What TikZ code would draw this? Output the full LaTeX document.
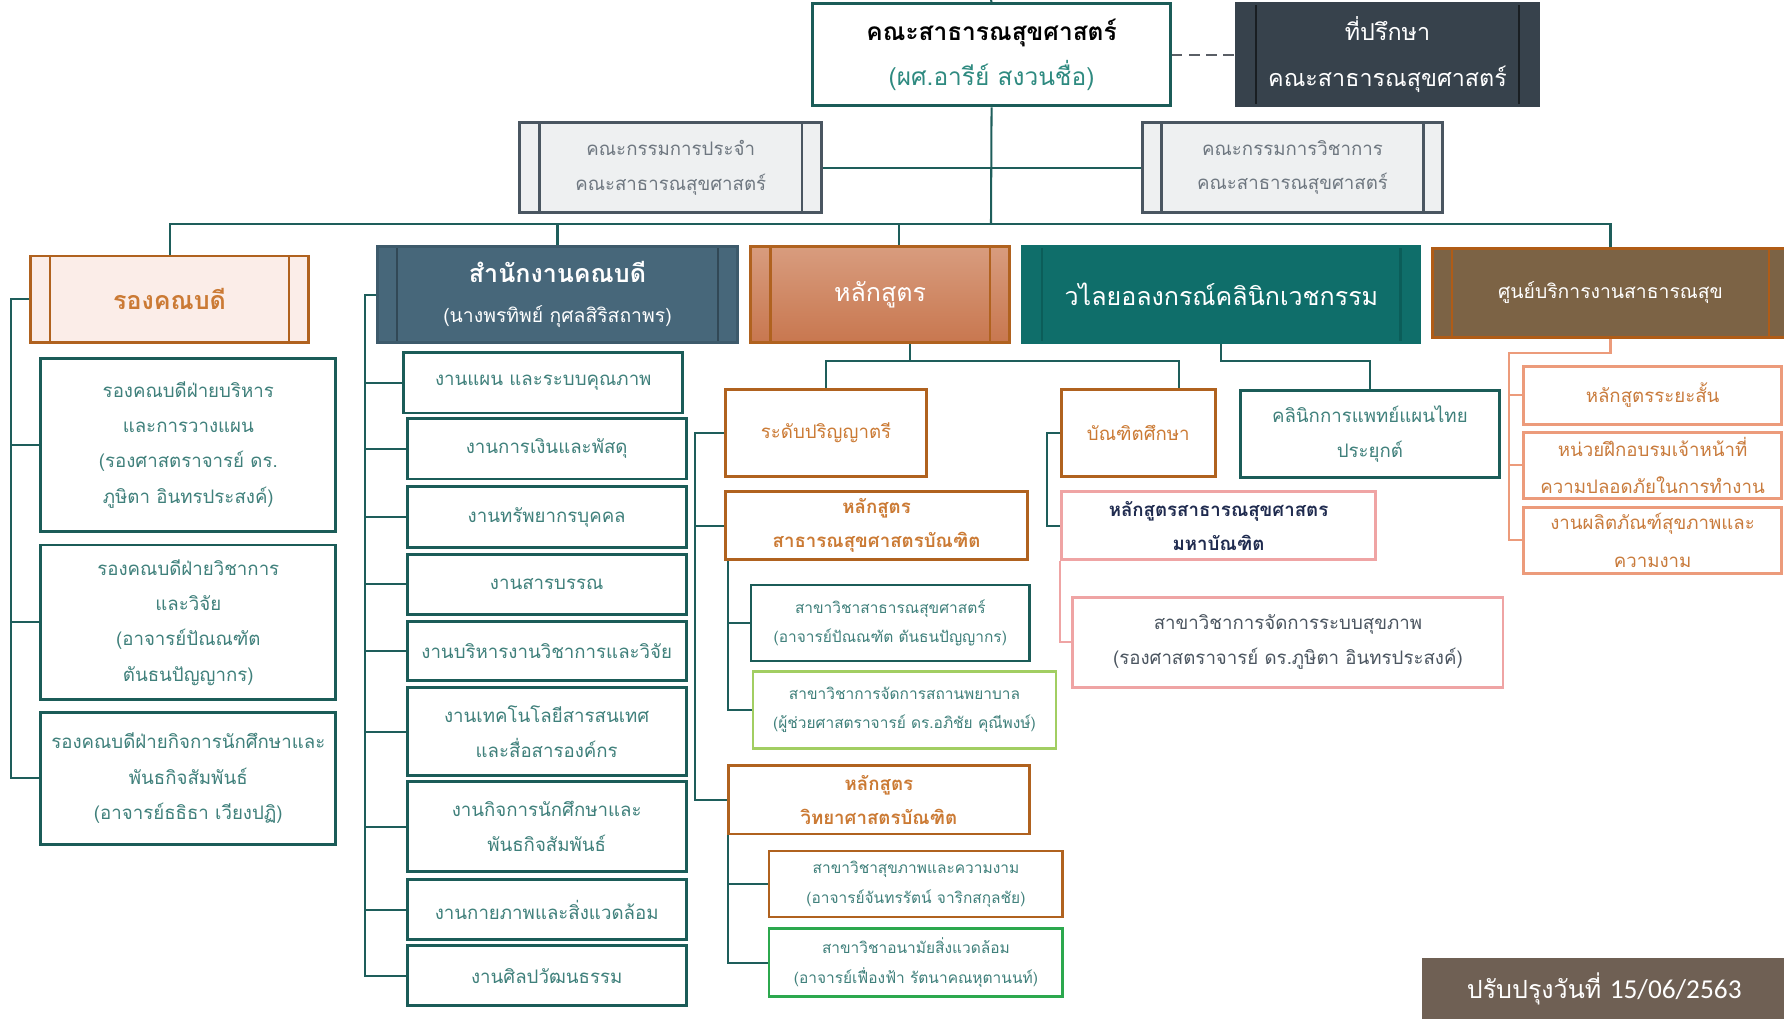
\documentclass[tikz,border=0pt]{standalone}
\usepackage{fontspec}
\newfontfamily\thai[Script=Thai]{Loma}
\newfontfamily\digits{Carlito}
\usetikzlibrary{positioning}

\definecolor{linec}{HTML}{1E5E5B}
\definecolor{tealbd}{HTML}{1B5C58}
\definecolor{tealtx}{HTML}{3F807B}
\definecolor{deantx}{HTML}{2E8A80}
\definecolor{slate}{HTML}{37424C}
\definecolor{cmtfill}{HTML}{EEF0F1}
\definecolor{cmtbd}{HTML}{4A5661}
\definecolor{cmttx}{HTML}{6E7780}
\definecolor{brownbd}{HTML}{B0621F}
\definecolor{orangetx}{HTML}{CB7A34}
\definecolor{vicefill}{HTML}{FBEDE8}
\definecolor{officefill}{HTML}{47677A}
\definecolor{officebd}{HTML}{3D5A6B}
\definecolor{currtop}{HTML}{D89C7E}
\definecolor{currbot}{HTML}{C8774F}
\definecolor{clinicfill}{HTML}{0F6E6A}
\definecolor{clinicbar}{HTML}{0B5D59}
\definecolor{svcfill}{HTML}{7C6345}
\definecolor{svcbd}{HTML}{B05C16}
\definecolor{pinkbd}{HTML}{EFA4A4}
\definecolor{navytx}{HTML}{1F2B4F}
\definecolor{graytx}{HTML}{4B5560}
\definecolor{lgreen}{HTML}{A2CE62}
\definecolor{dgreen}{HTML}{2CA84E}
\definecolor{salmon}{HTML}{EC9B7B}
\definecolor{salmontx}{HTML}{C97B3C}
\definecolor{datefill}{HTML}{6F6054}
\definecolor{dashc}{HTML}{5A5F66}

\newcommand\fsz[2]{\fontsize{#1}{#2}\selectfont}

\tikzset{
  link/.style={draw=linec, line width=1.8pt},
  box/.style={draw=tealbd, line width=2.6pt, fill=white, text=tealtx, align=center,
    inner sep=0pt, font=\thai\fsz{16.4}{31}},
  subbox/.style={box, line width=2.2pt, font=\thai\fsz{13.6}{26}},
  course/.style={box, draw=brownbd, text=orangetx},
  bars/.style={path picture={
    \draw[line width=2.2pt, #1]
      ([xshift=17]path picture bounding box.north west) -- ([xshift=17]path picture bounding box.south west)
      ([xshift=-17]path picture bounding box.north east) -- ([xshift=-17]path picture bounding box.south east);}},
  head/.style={draw, line width=2.6pt, text=white, align=center, inner sep=0pt, font=\thai\fsz{22}{35}},
}

\begin{document}
\begin{tikzpicture}[x=1pt, y=-1pt]
\useasboundingbox (0,0) rectangle (1568,895);

% top
\node[box, text=black, minimum width=315, minimum height=90, font=\thai\fsz{21.5}{40}] (dean) at (871.5,48)
  {\bfseries คณะสาธารณสุขศาสตร์\\\color{deantx}(ผศ.อารีย์ สงวนชื่อ)};
\node[head, draw=slate, fill=slate, bars=black!55!slate, minimum width=265, minimum height=90, font=\thai\fsz{20.5}{40}] (advisor) at (1219.5,48)
  {ที่ปรึกษา\\คณะสาธารณสุขศาสตร์};
\node[head, draw=cmtbd, fill=cmtfill, text=cmttx, bars=cmtbd, minimum width=265, minimum height=79, font=\thai\fsz{16.4}{30}] (cmtA) at (589.5,147.5)
  {คณะกรรมการประจำ\\คณะสาธารณสุขศาสตร์};
\node[head, draw=cmtbd, fill=cmtfill, text=cmttx, bars=cmtbd, minimum width=264, minimum height=79, font=\thai\fsz{16.4}{30}] (cmtB) at (1136,147.5)
  {คณะกรรมการวิชาการ\\คณะสาธารณสุขศาสตร์};

% second row
\node[head, draw=brownbd, fill=vicefill, text=orangetx, bars=brownbd, minimum width=244, minimum height=76] (vice) at (149,263)
  {\bfseries รองคณบดี};
\node[head, draw=officebd, fill=officefill, bars=officebd!80!black, minimum width=316, minimum height=84] (office) at (490,259)
  {\bfseries สำนักงานคณบดี\\\fsz{17}{35}(นางพรทิพย์ กุศลสิริสถาพร)};
\node[head, draw=brownbd, top color=currtop, bottom color=currbot, bars=brownbd, minimum width=227, minimum height=84] (curr) at (773.5,259)
  {หลักสูตร};
\node[head, draw=clinicfill, fill=clinicfill, bars=clinicbar, minimum width=349, minimum height=84] (clinic) at (1073.5,259)
  {วไลยอลงกรณ์คลินิกเวชกรรม};
\node[head, draw=svcbd, fill=svcfill, bars=svcbd, minimum width=313, minimum height=79, font=\thai\fsz{17}{30}] (center) at (1415.5,257.5)
  {ศูนย์บริการงานสาธารณสุข};

% vice deans
\node[box, minimum width=259, minimum height=152] (vc1) at (165.5,391)
  {รองคณบดีฝ่ายบริหาร\\และการวางแผน\\(รองศาสตราจารย์ ดร.\\ภูษิตา อินทรประสงค์)};
\node[box, minimum width=259, minimum height=136] (vc2) at (165.5,547)
  {รองคณบดีฝ่ายวิชาการ\\และวิจัย\\(อาจารย์ปัณณฑัต\\ตันธนปัญญากร)};
\node[box, minimum width=259, minimum height=116] (vc3) at (165.5,684)
  {รองคณบดีฝ่ายกิจการนักศึกษาและ\\พันธกิจสัมพันธ์\\(อาจารย์ธธิธา เวียงปฏิ)};

% office units
\node[box, minimum width=245, minimum height=53] (w1) at (477.5,336.5) {งานแผน และระบบคุณภาพ};
\node[box, minimum width=245, minimum height=53] (w2) at (480.5,394.5) {งานการเงินและพัสดุ};
\node[box, minimum width=245, minimum height=53] (w3) at (480.5,454.5) {งานทรัพยากรบุคคล};
\node[box, minimum width=245, minimum height=53] (w4) at (480.5,513.5) {งานสารบรรณ};
\node[box, minimum width=245, minimum height=52] (w5) at (480.5,572) {งานบริหารงานวิชาการและวิจัย};
\node[box, minimum width=245, minimum height=78] (w6) at (480.5,643) {งานเทคโนโลยีสารสนเทศ\\และสื่อสารองค์กร};
\node[box, minimum width=245, minimum height=79] (w7) at (480.5,726.5) {งานกิจการนักศึกษาและ\\พันธกิจสัมพันธ์};
\node[box, minimum width=245, minimum height=53] (w8) at (480.5,799.5) {งานกายภาพและสิ่งแวดล้อม};
\node[box, minimum width=245, minimum height=53] (w9) at (480.5,857.5) {งานศิลปวัฒนธรรม};

% programmes
\node[course, minimum width=176, minimum height=77] (bach) at (726,380.5) {ระดับปริญญาตรี};
\node[course, minimum width=265, minimum height=60, font=\thai\bfseries\fsz{16.4}{30}] (bph) at (770.5,462)
  {หลักสูตร\\สาธารณสุขศาสตรบัณฑิต};
\node[subbox, minimum width=245, minimum height=67] (ph1) at (782.5,547.5)
  {สาขาวิชาสาธารณสุขศาสตร์\\(อาจารย์ปัณณฑัต ตันธนปัญญากร)};
\node[subbox, draw=lgreen, minimum width=266, minimum height=68] (ph2) at (795,624)
  {สาขาวิชาการจัดการสถานพยาบาล\\(ผู้ช่วยศาสตราจารย์ ดร.อภิชัย คุณีพงษ์)};
\node[course, minimum width=265, minimum height=60, font=\thai\bfseries\fsz{16.4}{30}] (bsc) at (772.5,703)
  {หลักสูตร\\วิทยาศาสตรบัณฑิต};
\node[subbox, draw=brownbd, minimum width=258, minimum height=58] (sc1) at (805,777)
  {สาขาวิชาสุขภาพและความงาม\\(อาจารย์จันทรรัตน์ จาริกสกุลชัย)};
\node[subbox, draw=dgreen, minimum width=258, minimum height=60] (sc2) at (805,846)
  {สาขาวิชาอนามัยสิ่งแวดล้อม\\(อาจารย์เฟื่องฟ้า รัตนาคณหุตานนท์)};

% graduate
\node[course, minimum width=135, minimum height=77] (grad) at (1000.5,380.5) {บัณฑิตศึกษา};
\node[box, draw=pinkbd, text=navytx, minimum width=276, minimum height=60, font=\thai\bfseries\fsz{16.4}{30}] (mph) at (1071,462)
  {หลักสูตรสาธารณสุขศาสตร\\มหาบัณฑิต};
\node[box, draw=pinkbd, text=graytx, minimum width=378, minimum height=79] (mph1) at (1132,564.5)
  {สาขาวิชาการจัดการระบบสุขภาพ\\(รองศาสตราจารย์ ดร.ภูษิตา อินทรประสงค์)};
\node[box, minimum width=228, minimum height=77] (ttm) at (1204,381.5) {คลินิกการแพทย์แผนไทย\\ประยุกต์};

% service centre
\node[box, draw=salmon, text=salmontx, minimum width=227, minimum height=51] (svc1) at (1452.5,347.5) {หลักสูตรระยะสั้น};
\node[box, draw=salmon, text=salmontx, minimum width=227, minimum height=58, font=\thai\fsz{16.4}{33}] (svc2) at (1452.5,409)
  {หน่วยฝึกอบรมเจ้าหน้าที่\\ความปลอดภัยในการทำงาน};
\node[box, draw=salmon, text=salmontx, minimum width=227, minimum height=58, font=\thai\fsz{16.4}{33}] (svc3) at (1452.5,475)
  {งานผลิตภัณฑ์สุขภาพและ\\ความงาม};

\node[fill=datefill, text=white, minimum width=320, minimum height=55, inner sep=0pt, font=\thai\fsz{22}{26}] (date) at (1410,869.5)
  {ปรับปรุงวันที่ {\digits\fsz{24}{26}15/06/2563}};

% connectors
\coordinate (top) at (871,0);
\coordinate (bus) at (871,197);
\coordinate (sp1) at (10,0);
\coordinate (sp2) at (321,0);
\coordinate (sp3) at (611,0);
\coordinate (sp4) at (640,0);
\coordinate (sp5) at (920,0);
\coordinate (cj) at (800,317);
\coordinate (sp6) at (1326,310);

\draw[link] (dean.north) -- (top);
\draw[link] (dean.south) -- (bus);
\draw[link] (cmtA.east) -- (cmtB.west);
\draw[dashc, line width=1.8pt, dash pattern=on 9pt off 6pt] (dean.east) -- (advisor.west);
\draw[link] (vice.north) |- (bus) -| (center.north);
\draw[link] (office.north) -- (office.north |- bus);
\draw[link] ([xshift=16.5]curr.north) -- ([xshift=16.5]curr.north |- bus);

\draw[link] (vice.west) -| (sp1 |- vc3.west) -- (vc3.west);
\foreach \n in {vc1,vc2} \draw[link] (\n.west) -- (\n.west -| sp1);

\draw[link] (office.west) -| (sp2 |- w9.west) -- (w9.west);
\foreach \n in {w1,w2,w3,w4,w5,w6,w7,w8} \draw[link] (\n.west) -- (\n.west -| sp2);

\draw[link] ([xshift=26.5]curr.south) -- (cj);
\draw[link] (bach.north) |- (cj) -| ([xshift=35.5]grad.north);
\draw[link] (clinic.south) -- (clinic.south |- cj) -| (ttm.north);

\draw[link] (bach.west) -| (sp3 |- bsc.west) -- (bsc.west);
\draw[link] (bph.west) -- (bph.west -| sp3);
\draw[link] (bph.south -| sp4) |- (ph2.west);
\draw[link] (ph1.west) -- (ph1.west -| sp4);
\draw[link] (bsc.south -| sp4) |- (sc2.west);
\draw[link] (sc1.west) -- (sc1.west -| sp4);

\draw[link] (grad.west) -| (sp5 |- mph.west) -- (mph.west);
\draw[draw=pinkbd, line width=1.8pt] (mph.south west) |- (mph1.west);

\draw[draw=salmon, line width=1.8pt] (center.south) |- (sp6) |- (svc3.west);
\foreach \n in {svc1,svc2} \draw[draw=salmon, line width=1.8pt] (\n.west) -- (\n.west -| sp6);
\end{tikzpicture}
\end{document}
